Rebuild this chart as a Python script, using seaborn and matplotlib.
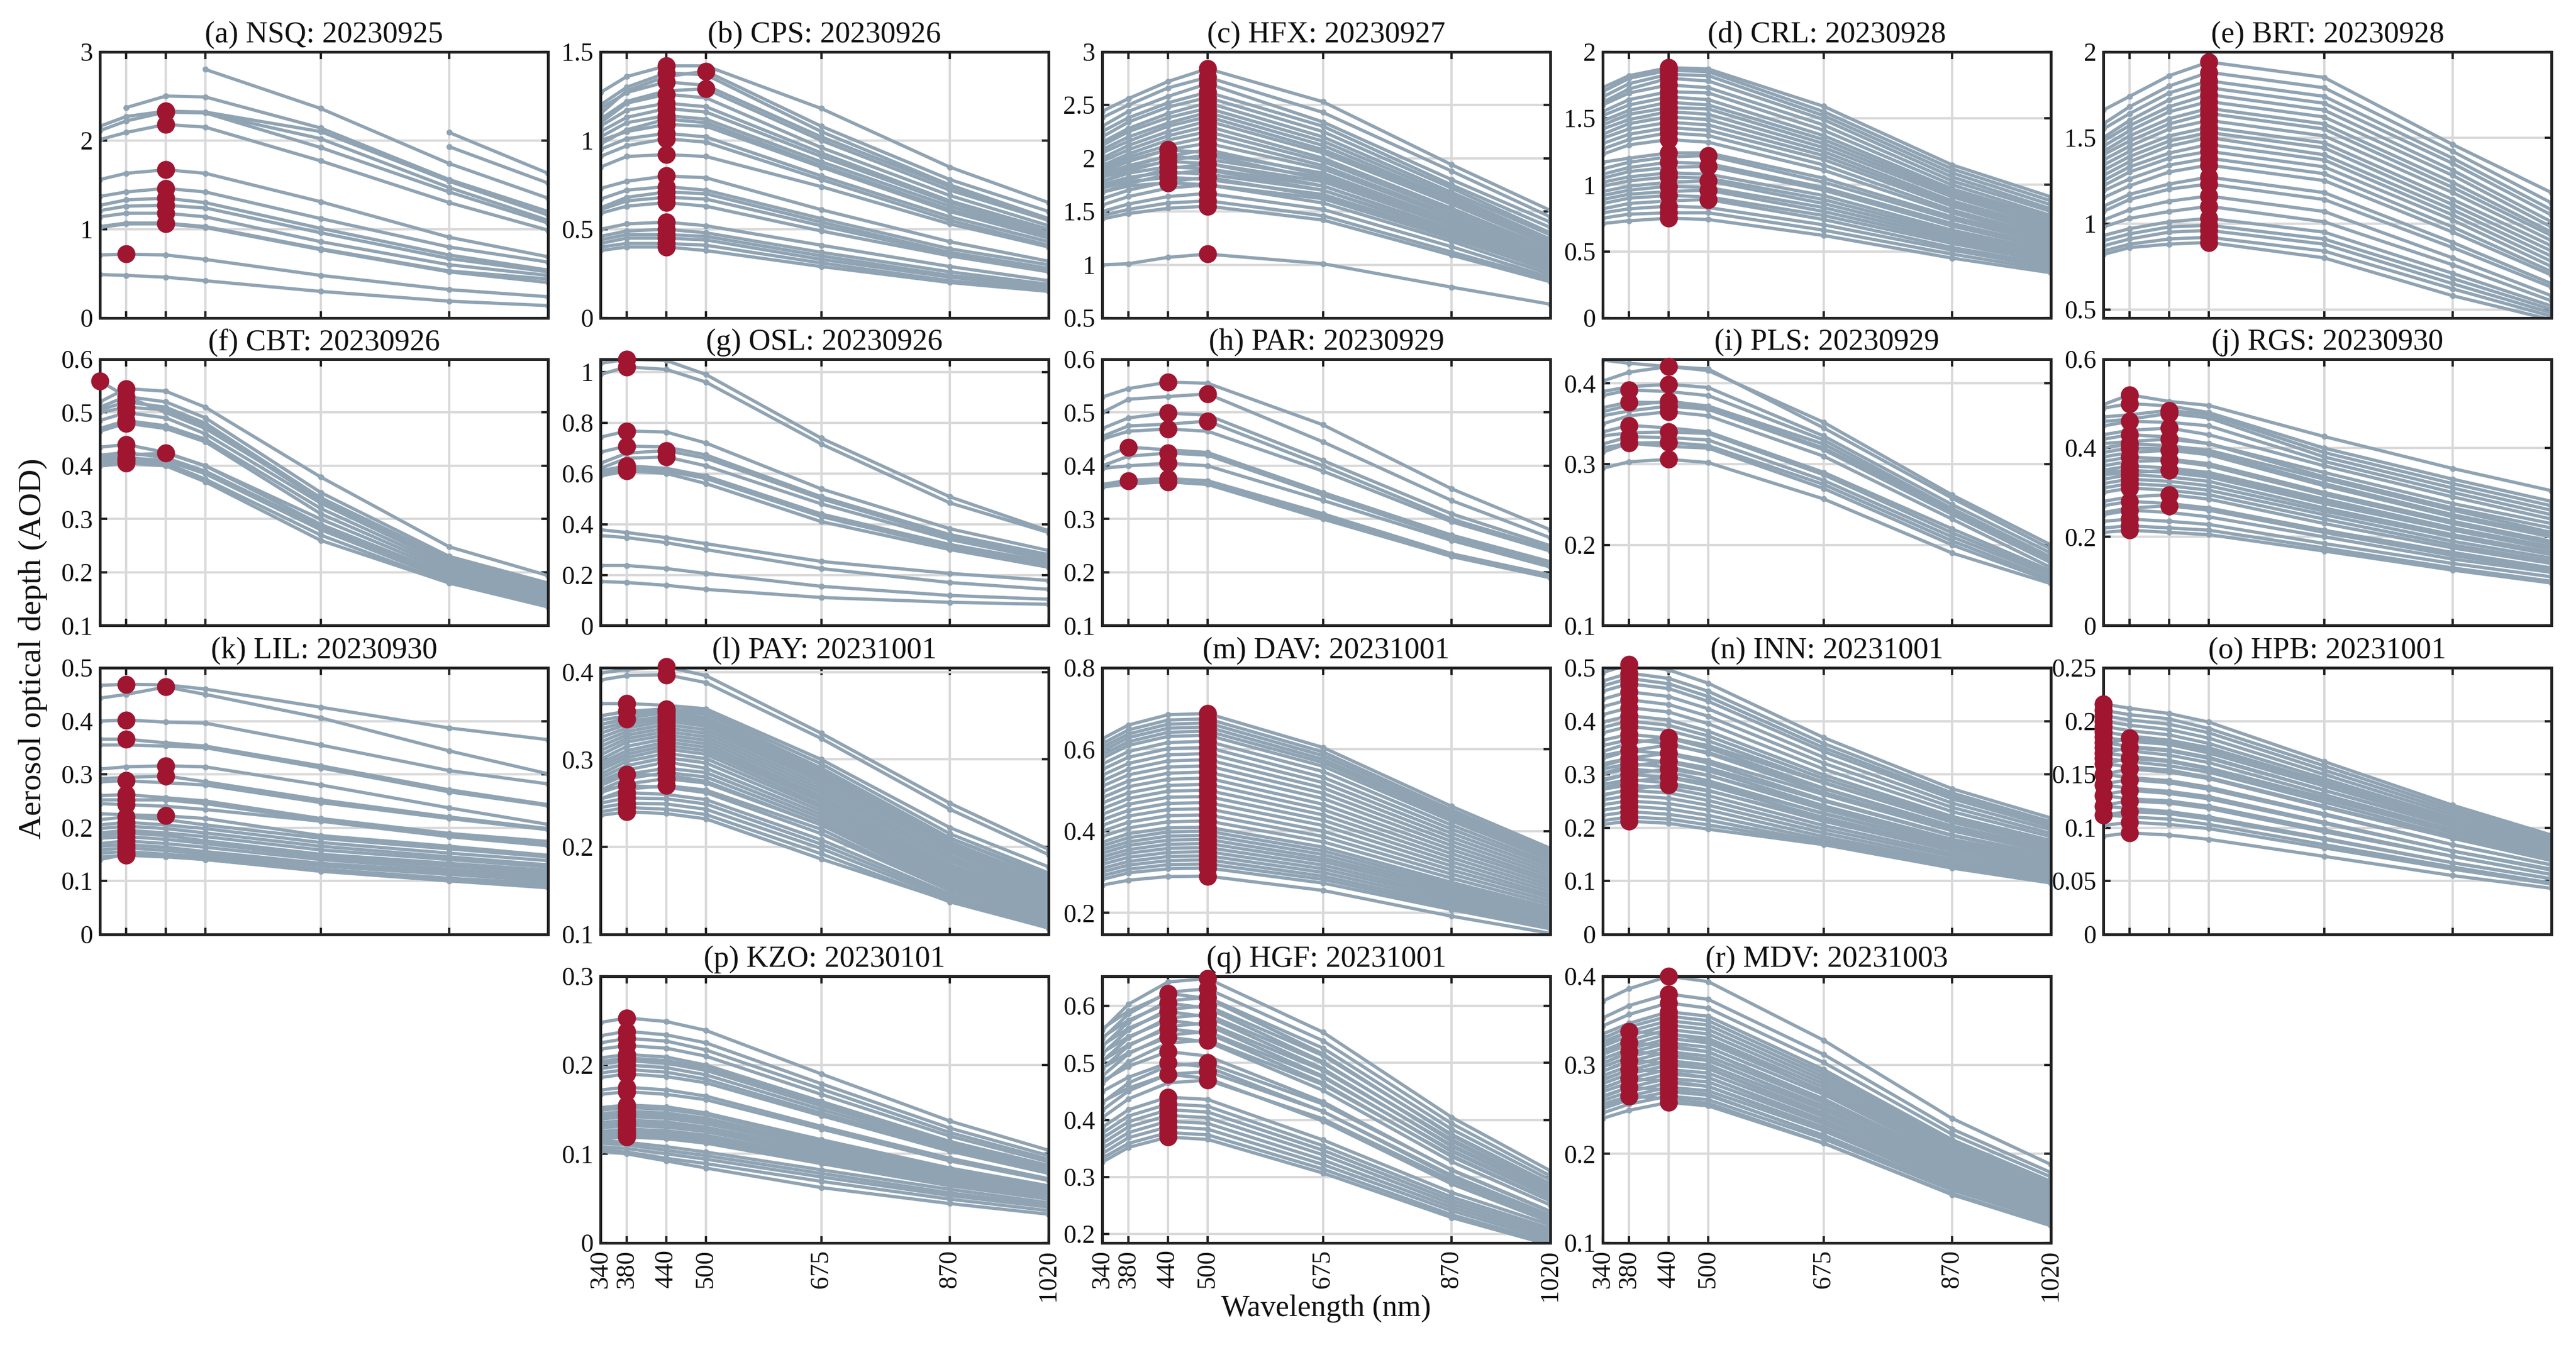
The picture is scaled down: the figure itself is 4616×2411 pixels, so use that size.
import numpy as np
import pandas as pd
import matplotlib
matplotlib.use("Agg")
import matplotlib.pyplot as plt
import seaborn as sns
from matplotlib.ticker import FuncFormatter

nan = np.nan
wavelengths = [340, 380, 440, 500, 675, 870, 1020]

titles = ["(a) NSQ: 20230925", "(b) CPS: 20230926", "(c) HFX: 20230927", "(d) CRL: 20230928",
          "(e) BRT: 20230928", "(f) CBT: 20230926", "(g) OSL: 20230926", "(h) PAR: 20230929",
          "(i) PLS: 20230929", "(j) RGS: 20230930", "(k) LIL: 20230930", "(l) PAY: 20231001",
          "(m) DAV: 20231001", "(n) INN: 20231001", "(o) HPB: 20231001", "(p) KZO: 20230101",
          "(q) HGF: 20231001", "(r) MDV: 20231003"]

ylims = [(0, 3), (0, 1.5), (0.5, 3), (0, 2), (0.45, 2), (0.1, 0.6), (0, 1.05), (0.1, 0.6),
         (0.1, 0.43), (0, 0.6), (0, 0.5), (0.1, 0.405), (0.148, 0.8), (0, 0.5), (0, 0.25),
         (0, 0.3), (0.185, 0.652), (0.1, 0.4)]

yticks = [[0, 1, 2, 3], [0, 0.5, 1, 1.5], [0.5, 1, 1.5, 2, 2.5, 3], [0, 0.5, 1, 1.5, 2],
          [0.5, 1, 1.5, 2], [0.1, 0.2, 0.3, 0.4, 0.5, 0.6], [0, 0.2, 0.4, 0.6, 0.8, 1],
          [0.1, 0.2, 0.3, 0.4, 0.5, 0.6], [0.1, 0.2, 0.3, 0.4], [0, 0.2, 0.4, 0.6],
          [0, 0.1, 0.2, 0.3, 0.4, 0.5], [0.1, 0.2, 0.3, 0.4], [0.2, 0.4, 0.6, 0.8],
          [0, 0.1, 0.2, 0.3, 0.4, 0.5], [0, 0.05, 0.1, 0.15, 0.2, 0.25], [0, 0.1, 0.2, 0.3],
          [0.2, 0.3, 0.4, 0.5, 0.6], [0.1, 0.2, 0.3, 0.4]]

# AOD spectra (340,380,440,500,675,870,1020 nm) and the wavelength of the marked peak (0 = none)
aod_a = [[nan, nan, nan, 2.80, 2.36, 1.74, 1.35], [nan, 2.37, 2.50, 2.49, 2.14, 1.56, 1.20],
         [2.16, 2.27, 2.33, 2.32, 2.10, 1.54, 1.16], [2.11, 2.22, 2.32, 2.31, 2.02, 1.47, 1.10],
         [nan, nan, nan, 2.31, 1.92, 1.42, 1.07], [2.01, 2.09, 2.18, 2.15, 1.77, 1.30, 0.99],
         [nan, nan, nan, nan, nan, 2.09, 1.63], [nan, nan, nan, nan, nan, 1.93, 1.52],
         [1.56, 1.63, 1.67, 1.63, 1.31, 0.91, 0.69], [1.37, 1.42, 1.46, 1.42, 1.12, 0.80, 0.63],
         [1.27, 1.33, 1.35, 1.30, 1.01, 0.71, 0.54], [1.21, 1.26, 1.27, 1.24, 0.96, 0.67, 0.52],
         [1.14, 1.18, 1.18, 1.14, 0.86, 0.60, 0.48], [1.03, 1.07, 1.07, 1.03, 0.78, 0.53, 0.44],
         [1.02, 1.06, 1.06, 1.02, 0.77, 0.52, 0.40], [0.71, 0.72, 0.71, 0.66, 0.48, 0.32, 0.24],
         [0.49, 0.48, 0.46, 0.42, 0.30, 0.19, 0.14]]
peak_a = [0, 0, 440, 440, 0, 440, 0, 0, 440, 440, 440, 440, 440, 440, 440, 380, 0]

aod_b = [[1.27, 1.36, 1.42, 1.42, 1.18, 0.85, 0.65], [1.15, 1.28, 1.36, 1.39, 1.08, 0.78, 0.60],
         [1.20, 1.30, 1.38, 1.37, 1.05, 0.75, 0.56], [1.12, 1.22, 1.28, 1.29, 1.00, 0.72, 0.55],
         [1.18, 1.27, 1.33, 1.31, 1.02, 0.74, 0.55], [1.10, 1.21, 1.26, 1.24, 0.96, 0.69, 0.52],
         [1.08, 1.17, 1.21, 1.19, 0.93, 0.66, 0.50], [1.05, 1.13, 1.18, 1.16, 0.91, 0.65, 0.48],
         [1.02, 1.10, 1.14, 1.12, 0.88, 0.63, 0.47], [0.98, 1.06, 1.12, 1.10, 0.86, 0.61, 0.46],
         [1.00, 1.05, 1.09, 1.08, 0.85, 0.60, 0.45], [0.95, 1.01, 1.04, 1.02, 0.80, 0.57, 0.43],
         [0.91, 0.97, 1.01, 0.99, 0.78, 0.55, 0.41], [0.85, 0.91, 0.92, 0.91, 0.74, 0.53, 0.40],
         [0.73, 0.77, 0.80, 0.79, 0.61, 0.43, 0.32], [0.67, 0.72, 0.74, 0.72, 0.56, 0.39, 0.30],
         [0.62, 0.68, 0.71, 0.70, 0.54, 0.37, 0.28], [0.61, 0.66, 0.68, 0.67, 0.52, 0.36, 0.27],
         [0.59, 0.63, 0.65, 0.63, 0.49, 0.35, 0.26], [0.50, 0.53, 0.54, 0.52, 0.41, 0.29, 0.21],
         [0.46, 0.49, 0.50, 0.48, 0.37, 0.26, 0.19], [0.44, 0.47, 0.47, 0.46, 0.35, 0.24, 0.18],
         [0.42, 0.45, 0.45, 0.44, 0.33, 0.23, 0.17], [0.40, 0.42, 0.42, 0.41, 0.31, 0.21, 0.16],
         [0.38, 0.40, 0.40, 0.38, 0.29, 0.20, 0.15]]
peak_b = [440, 500, 440, 500] + [440] * 21

aod_c = [[2.44, 2.56, 2.72, 2.84, 2.53, 1.94, 1.51], [2.38, 2.50, 2.66, 2.76, 2.43, 1.88, 1.45],
         [2.30, 2.44, 2.58, 2.70, 2.34, 1.80, 1.40], [2.25, 2.38, 2.52, 2.62, 2.30, 1.75, 1.35],
         [2.20, 2.34, 2.48, 2.57, 2.25, 1.72, 1.30], [2.15, 2.28, 2.42, 2.52, 2.20, 1.68, 1.28],
         [2.12, 2.25, 2.38, 2.47, 2.16, 1.65, 1.24], [2.08, 2.20, 2.33, 2.43, 2.12, 1.62, 1.22],
         [2.05, 2.16, 2.30, 2.39, 2.08, 1.60, 1.20], [2.00, 2.12, 2.25, 2.35, 2.05, 1.57, 1.18],
         [1.97, 2.08, 2.21, 2.30, 2.00, 1.53, 1.15], [1.93, 2.04, 2.17, 2.25, 1.97, 1.50, 1.13],
         [1.90, 2.01, 2.12, 2.20, 1.93, 1.47, 1.10], [1.87, 1.97, 2.08, 2.14, 1.90, 1.45, 1.08],
         [1.90, 1.98, 2.08, 2.05, 1.86, 1.42, 1.06], [1.85, 1.93, 2.02, 1.99, 1.82, 1.40, 1.04],
         [1.82, 1.90, 1.97, 1.95, 1.78, 1.37, 1.02], [1.78, 1.86, 1.92, 1.90, 1.74, 1.34, 1.00],
         [1.75, 1.82, 1.87, 1.85, 1.70, 1.31, 0.98], [1.72, 1.78, 1.82, 1.80, 1.66, 1.28, 0.96],
         [1.68, 1.74, 1.77, 1.75, 1.62, 1.25, 0.95], [1.82, 1.92, 2.02, 2.08, 1.84, 1.42, 1.07],
         [1.78, 1.88, 1.98, 2.03, 1.80, 1.38, 1.04], [1.72, 1.80, 1.90, 1.95, 1.74, 1.33, 1.00],
         [1.68, 1.76, 1.85, 1.89, 1.70, 1.30, 0.97], [1.62, 1.70, 1.78, 1.82, 1.64, 1.26, 0.94],
         [1.56, 1.64, 1.72, 1.75, 1.58, 1.22, 0.91], [1.50, 1.57, 1.64, 1.67, 1.52, 1.17, 0.88],
         [1.46, 1.52, 1.58, 1.60, 1.46, 1.12, 0.86], [1.43, 1.48, 1.53, 1.55, 1.42, 1.09, 0.84],
         [1.00, 1.01, 1.07, 1.10, 1.01, 0.79, 0.63]]
peak_c = [500] * 14 + [440] * 7 + [500] * 10

aod_d = [[1.73, 1.82, 1.88, 1.87, 1.59, 1.15, 0.91], [1.70, 1.80, 1.86, 1.85, 1.55, 1.12, 0.88],
         [1.66, 1.76, 1.83, 1.82, 1.52, 1.09, 0.85], [1.62, 1.72, 1.80, 1.78, 1.49, 1.06, 0.82],
         [1.60, 1.69, 1.75, 1.73, 1.45, 1.03, 0.80], [1.55, 1.64, 1.70, 1.69, 1.41, 1.00, 0.77],
         [1.52, 1.60, 1.66, 1.64, 1.37, 0.97, 0.75], [1.48, 1.56, 1.62, 1.60, 1.34, 0.95, 0.73],
         [1.45, 1.53, 1.58, 1.57, 1.31, 0.93, 0.71], [1.42, 1.49, 1.55, 1.53, 1.28, 0.91, 0.69],
         [1.38, 1.46, 1.51, 1.49, 1.25, 0.88, 0.67], [1.35, 1.42, 1.47, 1.45, 1.22, 0.86, 0.65],
         [1.31, 1.38, 1.43, 1.41, 1.19, 0.84, 0.63], [1.27, 1.34, 1.39, 1.37, 1.15, 0.81, 0.61],
         [1.23, 1.30, 1.34, 1.32, 1.11, 0.79, 0.59], [1.17, 1.20, 1.24, 1.24, 1.05, 0.76, 0.58],
         [1.12, 1.17, 1.21, 1.22, 1.02, 0.74, 0.56], [1.08, 1.13, 1.17, 1.16, 0.98, 0.71, 0.54],
         [1.05, 1.10, 1.13, 1.14, 0.96, 0.69, 0.52], [1.02, 1.06, 1.09, 1.08, 0.92, 0.66, 0.50],
         [0.99, 1.03, 1.06, 1.05, 0.89, 0.64, 0.48], [0.95, 0.99, 1.02, 1.03, 0.86, 0.62, 0.47],
         [0.92, 0.96, 0.99, 0.98, 0.83, 0.60, 0.45], [0.89, 0.93, 0.95, 0.96, 0.80, 0.58, 0.44],
         [0.86, 0.90, 0.92, 0.91, 0.77, 0.56, 0.42], [0.82, 0.86, 0.88, 0.89, 0.74, 0.53, 0.40],
         [0.79, 0.82, 0.84, 0.83, 0.70, 0.51, 0.38], [0.75, 0.78, 0.79, 0.79, 0.66, 0.48, 0.36],
         [0.71, 0.73, 0.75, 0.74, 0.62, 0.45, 0.34]]
peak_d = [440] * 16 + [500, 440, 500, 440, 440, 500, 440, 500, 440, 500, 440, 440, 440]

aod_e = [[1.66, 1.74, 1.86, 1.94, 1.85, 1.46, 1.18], [1.58, 1.68, 1.80, 1.88, 1.79, 1.42, 1.12],
         [1.55, 1.64, 1.76, 1.83, 1.74, 1.38, 1.08], [1.50, 1.60, 1.72, 1.79, 1.70, 1.35, 1.05],
         [1.48, 1.57, 1.68, 1.75, 1.66, 1.31, 1.01], [1.45, 1.54, 1.65, 1.71, 1.62, 1.28, 0.98],
         [1.42, 1.51, 1.61, 1.67, 1.58, 1.24, 0.95], [1.40, 1.48, 1.58, 1.64, 1.55, 1.21, 0.93],
         [1.37, 1.45, 1.55, 1.60, 1.51, 1.18, 0.90], [1.34, 1.42, 1.51, 1.56, 1.47, 1.14, 0.87],
         [1.31, 1.39, 1.48, 1.53, 1.44, 1.11, 0.84], [1.28, 1.36, 1.45, 1.50, 1.40, 1.08, 0.81],
         [1.25, 1.33, 1.41, 1.46, 1.37, 1.05, 0.78], [1.22, 1.30, 1.38, 1.42, 1.33, 1.02, 0.75],
         [1.19, 1.26, 1.34, 1.38, 1.29, 0.98, 0.72], [1.15, 1.22, 1.30, 1.34, 1.25, 0.95, 0.70],
         [1.10, 1.17, 1.23, 1.27, 1.18, 0.89, 0.65], [1.07, 1.14, 1.20, 1.23, 1.14, 0.86, 0.63],
         [1.02, 1.08, 1.13, 1.16, 1.07, 0.80, 0.58], [0.98, 1.03, 1.07, 1.10, 1.01, 0.76, 0.55],
         [0.93, 0.97, 1.01, 1.03, 0.95, 0.71, 0.52], [0.90, 0.94, 0.98, 0.99, 0.91, 0.68, 0.50],
         [0.87, 0.91, 0.95, 0.96, 0.88, 0.65, 0.48], [0.84, 0.88, 0.91, 0.92, 0.84, 0.62, 0.46],
         [0.82, 0.86, 0.88, 0.89, 0.80, 0.58, 0.44]]
peak_e = [500] * 25

aod_f = [[0.559, 0.53, 0.50, 0.47, 0.34, 0.22, 0.17], [0.52, 0.545, 0.54, 0.51, 0.379, 0.248, 0.194],
         [0.51, 0.53, 0.52, 0.49, 0.35, 0.23, 0.18], [0.505, 0.52, 0.51, 0.48, 0.34, 0.225, 0.175],
         [0.50, 0.51, 0.505, 0.475, 0.335, 0.22, 0.17], [0.485, 0.50, 0.49, 0.46, 0.33, 0.215, 0.165],
         [0.47, 0.485, 0.475, 0.45, 0.32, 0.21, 0.16], [0.465, 0.48, 0.47, 0.445, 0.31, 0.205, 0.155],
         [0.435, 0.44, 0.425, 0.40, 0.30, 0.20, 0.15], [0.415, 0.42, 0.424, 0.40, 0.29, 0.195, 0.15],
         [0.42, 0.425, 0.415, 0.39, 0.285, 0.19, 0.145], [0.41, 0.415, 0.41, 0.385, 0.28, 0.185, 0.14],
         [0.405, 0.41, 0.405, 0.375, 0.27, 0.18, 0.14], [0.40, 0.405, 0.40, 0.37, 0.26, 0.18, 0.135]]
peak_f = [340, 380, 380, 380, 380, 380, 380, 380, 380, 440, 380, 380, 380, 380]

aod_g = [[1.034, 1.05, 1.045, 0.99, 0.739, 0.508, 0.374], [0.99, 1.02, 1.01, 0.96, 0.716, 0.484, 0.367],
         [0.743, 0.767, 0.763, 0.72, 0.539, 0.382, 0.296], [0.684, 0.708, 0.704, 0.673, 0.508, 0.359, 0.28],
         [0.64, 0.68, 0.69, 0.66, 0.50, 0.35, 0.27], [0.62, 0.66, 0.665, 0.63, 0.48, 0.34, 0.26],
         [0.61, 0.63, 0.62, 0.59, 0.44, 0.32, 0.25], [0.60, 0.62, 0.61, 0.58, 0.43, 0.31, 0.24],
         [0.59, 0.61, 0.60, 0.56, 0.41, 0.30, 0.23], [0.378, 0.367, 0.347, 0.323, 0.253, 0.206, 0.178],
         [0.355, 0.347, 0.327, 0.30, 0.225, 0.170, 0.143], [0.237, 0.237, 0.225, 0.206, 0.155, 0.119, 0.104],
         [0.174, 0.170, 0.159, 0.143, 0.111, 0.092, 0.084]]
peak_g = [380, 380, 380, 380, 440, 440, 380, 380, 380, 0, 0, 0, 0]

aod_h = [[0.529, 0.545, 0.557, 0.555, 0.477, 0.357, 0.28], [0.50, 0.525, 0.53, 0.535, 0.445, 0.335, 0.265],
         [0.47, 0.49, 0.499, 0.495, 0.41, 0.31, 0.25], [0.455, 0.475, 0.478, 0.484, 0.40, 0.30, 0.245],
         [0.45, 0.465, 0.469, 0.465, 0.39, 0.295, 0.24], [0.415, 0.435, 0.43, 0.425, 0.35, 0.27, 0.22],
         [0.40, 0.418, 0.424, 0.42, 0.345, 0.265, 0.215], [0.395, 0.40, 0.405, 0.40, 0.335, 0.26, 0.21],
         [0.36, 0.372, 0.37, 0.365, 0.30, 0.23, 0.19], [0.365, 0.373, 0.376, 0.372, 0.31, 0.235, 0.195],
         [0.36, 0.366, 0.37, 0.366, 0.305, 0.23, 0.19]]
peak_h = [440, 500, 440, 500, 440, 380, 440, 440, 380, 440, 440]

aod_i = [[0.429, 0.425, 0.421, 0.416, 0.352, 0.262, 0.20], [0.403, 0.414, 0.421, 0.418, 0.345, 0.258, 0.195],
         [0.385, 0.392, 0.39, 0.385, 0.33, 0.245, 0.185], [0.39, 0.396, 0.399, 0.395, 0.335, 0.25, 0.19],
         [0.37, 0.377, 0.376, 0.37, 0.32, 0.24, 0.18], [0.365, 0.373, 0.378, 0.372, 0.325, 0.242, 0.182],
         [0.36, 0.366, 0.372, 0.368, 0.318, 0.238, 0.178], [0.35, 0.36, 0.365, 0.36, 0.31, 0.232, 0.172],
         [0.34, 0.348, 0.345, 0.34, 0.29, 0.22, 0.168], [0.335, 0.339, 0.34, 0.338, 0.287, 0.215, 0.165],
         [0.325, 0.334, 0.333, 0.33, 0.28, 0.21, 0.162], [0.32, 0.326, 0.327, 0.323, 0.275, 0.205, 0.158],
         [0.315, 0.326, 0.322, 0.32, 0.27, 0.20, 0.155], [0.295, 0.303, 0.306, 0.302, 0.257, 0.19, 0.152]]
peak_i = [0, 440, 380, 440, 380, 440, 440, 440, 380, 440, 380, 440, 380, 440]

aod_j = [[0.498, 0.52, 0.505, 0.496, 0.426, 0.354, 0.304], [0.49, 0.50, 0.495, 0.48, 0.40, 0.33, 0.28],
         [0.47, 0.475, 0.485, 0.475, 0.39, 0.32, 0.27], [0.46, 0.465, 0.478, 0.468, 0.38, 0.31, 0.26],
         [0.45, 0.46, 0.458, 0.45, 0.37, 0.30, 0.25], [0.43, 0.44, 0.445, 0.43, 0.36, 0.29, 0.24],
         [0.42, 0.43, 0.425, 0.41, 0.345, 0.275, 0.23], [0.41, 0.415, 0.42, 0.41, 0.335, 0.265, 0.22],
         [0.40, 0.41, 0.405, 0.395, 0.33, 0.26, 0.21], [0.39, 0.40, 0.398, 0.39, 0.32, 0.25, 0.205],
         [0.38, 0.39, 0.395, 0.385, 0.315, 0.245, 0.20], [0.37, 0.38, 0.375, 0.365, 0.30, 0.235, 0.19],
         [0.36, 0.37, 0.372, 0.36, 0.295, 0.23, 0.185], [0.35, 0.36, 0.355, 0.345, 0.285, 0.22, 0.178],
         [0.345, 0.35, 0.345, 0.335, 0.275, 0.215, 0.172], [0.34, 0.345, 0.35, 0.34, 0.28, 0.218, 0.175],
         [0.33, 0.34, 0.335, 0.325, 0.265, 0.205, 0.165], [0.32, 0.33, 0.325, 0.315, 0.258, 0.20, 0.16],
         [0.31, 0.32, 0.315, 0.305, 0.25, 0.19, 0.152], [0.30, 0.31, 0.305, 0.295, 0.24, 0.182, 0.145],
         [0.28, 0.29, 0.295, 0.285, 0.23, 0.175, 0.14], [0.27, 0.28, 0.275, 0.265, 0.215, 0.165, 0.13],
         [0.255, 0.265, 0.27, 0.26, 0.21, 0.158, 0.125], [0.25, 0.26, 0.255, 0.245, 0.20, 0.15, 0.12],
         [0.235, 0.24, 0.235, 0.228, 0.185, 0.14, 0.11], [0.22, 0.225, 0.22, 0.215, 0.175, 0.13, 0.10],
         [0.21, 0.215, 0.21, 0.205, 0.168, 0.125, 0.096]]
peak_j = [380, 380, 440, 440, 380, 440, 380, 440, 380, 380, 440, 380, 440, 380, 380, 440,
          380, 380, 380, 380, 440, 380, 440, 380, 380, 380, 380]

aod_k = [[0.467, 0.469, 0.468, 0.46, 0.426, 0.387, 0.365], [0.443, 0.45, 0.464, 0.45, 0.406, 0.344, 0.301],
         [0.40, 0.402, 0.398, 0.396, 0.355, 0.307, 0.282], [0.366, 0.366, 0.359, 0.353, 0.316, 0.271, 0.243],
         [0.355, 0.355, 0.353, 0.35, 0.312, 0.267, 0.241], [0.31, 0.314, 0.316, 0.314, 0.28, 0.237, 0.206],
         [0.292, 0.294, 0.297, 0.286, 0.252, 0.22, 0.198], [0.286, 0.288, 0.284, 0.28, 0.247, 0.217, 0.196],
         [0.26, 0.262, 0.256, 0.25, 0.217, 0.189, 0.174], [0.252, 0.252, 0.252, 0.245, 0.214, 0.185, 0.168],
         [0.245, 0.243, 0.24, 0.234, 0.212, 0.183, 0.166], [0.226, 0.224, 0.222, 0.217, 0.185, 0.165, 0.148],
         [0.215, 0.22, 0.215, 0.205, 0.18, 0.16, 0.145], [0.205, 0.21, 0.205, 0.198, 0.172, 0.152, 0.138],
         [0.198, 0.203, 0.198, 0.19, 0.165, 0.145, 0.13], [0.19, 0.195, 0.19, 0.183, 0.158, 0.14, 0.126],
         [0.185, 0.19, 0.185, 0.175, 0.15, 0.133, 0.12], [0.18, 0.183, 0.178, 0.17, 0.145, 0.128, 0.115],
         [0.17, 0.175, 0.17, 0.163, 0.14, 0.122, 0.11], [0.165, 0.168, 0.163, 0.155, 0.133, 0.117, 0.105],
         [0.158, 0.162, 0.157, 0.15, 0.128, 0.112, 0.10], [0.152, 0.155, 0.15, 0.145, 0.122, 0.105, 0.095],
         [0.145, 0.148, 0.145, 0.14, 0.118, 0.10, 0.09], [0.14, 0.15, 0.147, 0.14, 0.12, 0.10, 0.087]]
peak_k = [380, 440, 380, 380, 0, 440, 440, 380, 380, 380, 380, 440] + [380] * 12

aod_l = [[0.399, 0.403, 0.406, 0.396, 0.33, 0.25, 0.197], [0.391, 0.396, 0.397, 0.388, 0.324, 0.243, 0.191],
         [0.364, 0.364, 0.362, 0.358, 0.30, 0.222, 0.177], [0.35, 0.355, 0.358, 0.355, 0.295, 0.215, 0.17],
         [0.345, 0.35, 0.356, 0.352, 0.29, 0.21, 0.165], [0.34, 0.347, 0.354, 0.348, 0.286, 0.206, 0.16],
         [0.335, 0.343, 0.35, 0.345, 0.283, 0.203, 0.157], [0.33, 0.34, 0.347, 0.342, 0.28, 0.20, 0.154],
         [0.325, 0.336, 0.344, 0.338, 0.277, 0.197, 0.151], [0.32, 0.332, 0.34, 0.334, 0.274, 0.194, 0.148],
         [0.315, 0.328, 0.336, 0.33, 0.27, 0.19, 0.145], [0.31, 0.324, 0.332, 0.326, 0.266, 0.187, 0.142],
         [0.305, 0.32, 0.328, 0.322, 0.262, 0.184, 0.139], [0.30, 0.315, 0.324, 0.318, 0.258, 0.18, 0.136],
         [0.296, 0.31, 0.32, 0.314, 0.255, 0.177, 0.133], [0.292, 0.306, 0.316, 0.31, 0.252, 0.174, 0.13],
         [0.288, 0.302, 0.312, 0.306, 0.248, 0.171, 0.128], [0.283, 0.298, 0.307, 0.301, 0.245, 0.168, 0.126],
         [0.279, 0.293, 0.302, 0.296, 0.241, 0.165, 0.124], [0.275, 0.288, 0.297, 0.29, 0.237, 0.162, 0.122],
         [0.27, 0.283, 0.29, 0.285, 0.233, 0.159, 0.12], [0.265, 0.278, 0.285, 0.28, 0.229, 0.156, 0.118],
         [0.262, 0.272, 0.278, 0.273, 0.225, 0.153, 0.116], [0.255, 0.266, 0.27, 0.265, 0.22, 0.15, 0.114],
         [0.274, 0.283, 0.282, 0.275, 0.225, 0.155, 0.118], [0.265, 0.27, 0.268, 0.262, 0.215, 0.15, 0.114],
         [0.255, 0.262, 0.26, 0.254, 0.208, 0.146, 0.111], [0.25, 0.256, 0.255, 0.249, 0.203, 0.143, 0.11],
         [0.245, 0.25, 0.249, 0.243, 0.198, 0.14, 0.108], [0.24, 0.245, 0.243, 0.237, 0.192, 0.137, 0.107],
         [0.236, 0.24, 0.238, 0.232, 0.186, 0.138, 0.107], [0.35, 0.355, 0.352, 0.347, 0.29, 0.21, 0.167],
         [0.34, 0.346, 0.344, 0.34, 0.283, 0.205, 0.162]]
peak_l = [440, 440, 380] + [440] * 21 + [380] * 9

aod_m = [[0.626, 0.660, 0.685, 0.688, 0.605, 0.461, 0.358], [0.614, 0.648, 0.672, 0.675, 0.594, 0.452, 0.351],
         [0.605, 0.638, 0.662, 0.665, 0.585, 0.446, 0.346], [0.596, 0.629, 0.652, 0.655, 0.576, 0.439, 0.341],
         [0.587, 0.619, 0.642, 0.645, 0.568, 0.432, 0.335], [0.578, 0.610, 0.632, 0.635, 0.559, 0.425, 0.330],
         [0.564, 0.595, 0.617, 0.620, 0.546, 0.415, 0.322], [0.551, 0.581, 0.602, 0.605, 0.532, 0.405, 0.315],
         [0.537, 0.566, 0.587, 0.590, 0.519, 0.395, 0.307], [0.523, 0.552, 0.572, 0.575, 0.506, 0.385, 0.299],
         [0.510, 0.538, 0.557, 0.560, 0.493, 0.375, 0.291], [0.496, 0.523, 0.542, 0.545, 0.480, 0.365, 0.283],
         [0.482, 0.509, 0.527, 0.530, 0.466, 0.355, 0.276], [0.469, 0.494, 0.512, 0.515, 0.453, 0.345, 0.268],
         [0.455, 0.480, 0.498, 0.500, 0.440, 0.335, 0.260], [0.441, 0.466, 0.483, 0.485, 0.427, 0.325, 0.252],
         [0.428, 0.451, 0.468, 0.470, 0.414, 0.315, 0.244], [0.414, 0.437, 0.453, 0.455, 0.400, 0.305, 0.237],
         [0.400, 0.422, 0.438, 0.440, 0.387, 0.295, 0.229], [0.387, 0.408, 0.423, 0.425, 0.374, 0.285, 0.221],
         [0.373, 0.394, 0.408, 0.410, 0.361, 0.275, 0.213], [0.364, 0.384, 0.398, 0.400, 0.352, 0.268, 0.208],
         [0.355, 0.374, 0.388, 0.390, 0.343, 0.261, 0.203], [0.346, 0.365, 0.378, 0.380, 0.334, 0.255, 0.198],
         [0.337, 0.355, 0.368, 0.370, 0.326, 0.248, 0.192], [0.328, 0.346, 0.358, 0.360, 0.317, 0.241, 0.187],
         [0.319, 0.336, 0.348, 0.350, 0.308, 0.235, 0.182], [0.309, 0.326, 0.338, 0.340, 0.299, 0.228, 0.177],
         [0.300, 0.317, 0.328, 0.330, 0.290, 0.221, 0.172], [0.291, 0.307, 0.318, 0.320, 0.282, 0.214, 0.166],
         [0.282, 0.298, 0.308, 0.310, 0.273, 0.208, 0.161], [0.268, 0.280, 0.289, 0.290, 0.255, 0.192, 0.150]]
peak_m = [500] * 32

aod_n = [[0.491, 0.506, 0.496, 0.471, 0.369, 0.273, 0.218], [0.475, 0.490, 0.480, 0.456, 0.358, 0.265, 0.211],
         [0.466, 0.480, 0.470, 0.446, 0.350, 0.259, 0.206], [0.456, 0.470, 0.461, 0.437, 0.343, 0.254, 0.202],
         [0.441, 0.455, 0.446, 0.423, 0.332, 0.246, 0.196], [0.427, 0.440, 0.431, 0.409, 0.321, 0.238, 0.189],
         [0.412, 0.425, 0.417, 0.395, 0.310, 0.230, 0.183], [0.398, 0.410, 0.402, 0.381, 0.299, 0.221, 0.176],
         [0.388, 0.400, 0.392, 0.372, 0.292, 0.216, 0.172], [0.378, 0.390, 0.382, 0.363, 0.285, 0.211, 0.168],
         [0.364, 0.375, 0.368, 0.349, 0.274, 0.203, 0.161], [0.354, 0.365, 0.358, 0.339, 0.266, 0.197, 0.157],
         [0.335, 0.345, 0.338, 0.321, 0.252, 0.186, 0.148], [0.320, 0.330, 0.323, 0.307, 0.241, 0.178, 0.142],
         [0.310, 0.320, 0.314, 0.298, 0.234, 0.173, 0.138], [0.301, 0.310, 0.304, 0.288, 0.226, 0.167, 0.133],
         [0.291, 0.300, 0.294, 0.279, 0.219, 0.162, 0.129], [0.281, 0.290, 0.284, 0.270, 0.212, 0.157, 0.125],
         [0.272, 0.280, 0.274, 0.260, 0.204, 0.151, 0.120], [0.262, 0.270, 0.265, 0.251, 0.197, 0.146, 0.116],
         [0.252, 0.260, 0.255, 0.242, 0.190, 0.140, 0.112], [0.243, 0.250, 0.245, 0.233, 0.183, 0.135, 0.108],
         [0.233, 0.240, 0.235, 0.223, 0.177, 0.132, 0.104], [0.223, 0.230, 0.225, 0.214, 0.172, 0.129, 0.101],
         [0.213, 0.220, 0.216, 0.205, 0.170, 0.128, 0.100], [0.206, 0.212, 0.208, 0.197, 0.168, 0.124, 0.096],
         [0.343, 0.358, 0.369, 0.354, 0.284, 0.210, 0.166], [0.330, 0.344, 0.355, 0.341, 0.273, 0.202, 0.160],
         [0.316, 0.330, 0.340, 0.326, 0.262, 0.194, 0.153], [0.302, 0.315, 0.325, 0.312, 0.250, 0.185, 0.146],
         [0.288, 0.301, 0.310, 0.298, 0.239, 0.177, 0.140], [0.274, 0.286, 0.295, 0.283, 0.227, 0.168, 0.133],
         [0.260, 0.272, 0.280, 0.269, 0.216, 0.160, 0.126]]
peak_n = [380] * 26 + [440] * 7

aod_o = [[0.216, 0.212, 0.207, 0.199, 0.162, 0.121, 0.093], [0.210, 0.206, 0.202, 0.193, 0.158, 0.118, 0.090],
         [0.205, 0.201, 0.197, 0.189, 0.154, 0.115, 0.088], [0.200, 0.196, 0.192, 0.184, 0.150, 0.112, 0.086],
         [0.195, 0.191, 0.187, 0.179, 0.146, 0.109, 0.084], [0.190, 0.186, 0.182, 0.175, 0.143, 0.106, 0.082],
         [0.185, 0.181, 0.178, 0.170, 0.139, 0.104, 0.080], [0.180, 0.176, 0.173, 0.166, 0.135, 0.101, 0.077],
         [0.175, 0.172, 0.168, 0.161, 0.131, 0.098, 0.075], [0.170, 0.167, 0.163, 0.156, 0.128, 0.095, 0.073],
         [0.165, 0.162, 0.158, 0.152, 0.124, 0.092, 0.071], [0.160, 0.157, 0.154, 0.147, 0.120, 0.090, 0.069],
         [0.150, 0.147, 0.144, 0.138, 0.113, 0.084, 0.065], [0.140, 0.137, 0.134, 0.129, 0.105, 0.078, 0.060],
         [0.130, 0.127, 0.125, 0.120, 0.098, 0.073, 0.056], [0.120, 0.118, 0.115, 0.110, 0.090, 0.067, 0.052],
         [0.112, 0.110, 0.108, 0.103, 0.084, 0.063, 0.048],
         [0.178, 0.184, 0.180, 0.173, 0.142, 0.107, 0.083], [0.170, 0.175, 0.172, 0.165, 0.135, 0.102, 0.079],
         [0.160, 0.165, 0.162, 0.155, 0.127, 0.096, 0.074], [0.150, 0.155, 0.152, 0.146, 0.119, 0.090, 0.070],
         [0.141, 0.145, 0.142, 0.136, 0.112, 0.084, 0.065], [0.131, 0.135, 0.132, 0.127, 0.104, 0.078, 0.061],
         [0.121, 0.125, 0.123, 0.118, 0.096, 0.073, 0.056], [0.112, 0.115, 0.113, 0.108, 0.089, 0.067, 0.052],
         [0.102, 0.105, 0.103, 0.099, 0.081, 0.061, 0.047], [0.092, 0.095, 0.093, 0.089, 0.073, 0.055, 0.043]]
peak_o = [340] * 17 + [380] * 10

aod_p = [[0.248, 0.253, 0.249, 0.239, 0.190, 0.137, 0.104], [0.233, 0.238, 0.234, 0.225, 0.179, 0.129, 0.098],
         [0.225, 0.230, 0.227, 0.217, 0.173, 0.124, 0.094], [0.218, 0.222, 0.219, 0.210, 0.167, 0.120, 0.091],
         [0.208, 0.212, 0.209, 0.200, 0.159, 0.114, 0.087], [0.204, 0.208, 0.205, 0.197, 0.156, 0.112, 0.085],
         [0.201, 0.205, 0.202, 0.194, 0.154, 0.111, 0.084], [0.196, 0.200, 0.197, 0.189, 0.150, 0.108, 0.082],
         [0.191, 0.195, 0.192, 0.184, 0.146, 0.105, 0.080], [0.186, 0.190, 0.187, 0.180, 0.143, 0.103, 0.078],
         [0.172, 0.175, 0.172, 0.165, 0.131, 0.095, 0.072], [0.167, 0.170, 0.167, 0.161, 0.128, 0.092, 0.070],
         [0.152, 0.155, 0.153, 0.146, 0.116, 0.084, 0.064], [0.149, 0.152, 0.150, 0.144, 0.114, 0.082, 0.062],
         [0.145, 0.148, 0.146, 0.140, 0.111, 0.080, 0.061], [0.142, 0.145, 0.143, 0.137, 0.109, 0.078, 0.059],
         [0.139, 0.142, 0.140, 0.134, 0.107, 0.077, 0.058], [0.135, 0.138, 0.136, 0.130, 0.104, 0.075, 0.057],
         [0.132, 0.135, 0.133, 0.128, 0.101, 0.073, 0.055], [0.129, 0.132, 0.130, 0.125, 0.099, 0.071, 0.054],
         [0.125, 0.128, 0.126, 0.121, 0.096, 0.069, 0.052], [0.122, 0.125, 0.123, 0.118, 0.094, 0.068, 0.051],
         [0.120, 0.122, 0.120, 0.115, 0.092, 0.066, 0.050], [0.117, 0.119, 0.117, 0.112, 0.089, 0.064, 0.049],
         [0.115, 0.113, 0.108, 0.102, 0.082, 0.060, 0.045], [0.112, 0.110, 0.104, 0.098, 0.078, 0.056, 0.042],
         [0.108, 0.106, 0.100, 0.094, 0.074, 0.053, 0.040], [0.105, 0.102, 0.095, 0.089, 0.069, 0.049, 0.036],
         [0.103, 0.100, 0.092, 0.084, 0.062, 0.044, 0.032]]
peak_p = [380] * 24 + [0] * 5

aod_q = [[0.557, 0.603, 0.642, 0.648, 0.554, 0.405, 0.311], [0.542, 0.586, 0.624, 0.630, 0.539, 0.394, 0.302],
         [0.529, 0.572, 0.609, 0.615, 0.526, 0.384, 0.295], [0.516, 0.558, 0.594, 0.600, 0.513, 0.375, 0.288],
         [0.503, 0.544, 0.579, 0.585, 0.500, 0.366, 0.281], [0.490, 0.530, 0.564, 0.570, 0.487, 0.356, 0.274],
         [0.477, 0.516, 0.549, 0.555, 0.475, 0.347, 0.266], [0.464, 0.502, 0.535, 0.540, 0.462, 0.338, 0.259],
         [0.430, 0.465, 0.495, 0.500, 0.428, 0.313, 0.240], [0.417, 0.451, 0.480, 0.485, 0.415, 0.303, 0.233],
         [0.404, 0.437, 0.465, 0.470, 0.402, 0.294, 0.226],
         [0.560, 0.591, 0.622, 0.613, 0.516, 0.373, 0.286], [0.545, 0.575, 0.605, 0.596, 0.502, 0.363, 0.278],
         [0.531, 0.561, 0.590, 0.581, 0.490, 0.354, 0.271], [0.518, 0.546, 0.575, 0.566, 0.477, 0.345, 0.265],
         [0.504, 0.532, 0.560, 0.552, 0.465, 0.336, 0.258], [0.491, 0.518, 0.545, 0.537, 0.452, 0.327, 0.251],
         [0.468, 0.494, 0.520, 0.512, 0.432, 0.312, 0.239], [0.450, 0.475, 0.500, 0.493, 0.415, 0.300, 0.230],
         [0.432, 0.456, 0.480, 0.473, 0.398, 0.288, 0.221],
         [0.387, 0.418, 0.440, 0.436, 0.365, 0.273, 0.216], [0.377, 0.407, 0.428, 0.424, 0.355, 0.265, 0.210],
         [0.368, 0.397, 0.418, 0.414, 0.347, 0.259, 0.205], [0.359, 0.388, 0.408, 0.404, 0.339, 0.253, 0.200],
         [0.350, 0.378, 0.398, 0.394, 0.330, 0.247, 0.195], [0.341, 0.369, 0.388, 0.384, 0.322, 0.241, 0.190],
         [0.333, 0.359, 0.378, 0.374, 0.314, 0.234, 0.185], [0.326, 0.352, 0.370, 0.366, 0.307, 0.229, 0.181]]
peak_q = [500] * 11 + [440] * 17

aod_r = [[0.372, 0.386, 0.400, 0.394, 0.328, 0.240, 0.188], [0.353, 0.367, 0.380, 0.374, 0.312, 0.228, 0.179],
         [0.344, 0.357, 0.370, 0.364, 0.303, 0.222, 0.174], [0.335, 0.347, 0.360, 0.355, 0.295, 0.216, 0.169],
         [0.330, 0.343, 0.355, 0.350, 0.291, 0.213, 0.167], [0.326, 0.338, 0.350, 0.345, 0.287, 0.210, 0.165],
         [0.321, 0.333, 0.345, 0.340, 0.283, 0.207, 0.162], [0.316, 0.328, 0.340, 0.335, 0.279, 0.204, 0.160],
         [0.312, 0.323, 0.335, 0.330, 0.275, 0.201, 0.157], [0.307, 0.318, 0.330, 0.325, 0.271, 0.198, 0.155],
         [0.302, 0.314, 0.325, 0.320, 0.267, 0.195, 0.153], [0.298, 0.309, 0.320, 0.315, 0.262, 0.192, 0.150],
         [0.293, 0.304, 0.315, 0.310, 0.258, 0.189, 0.148], [0.288, 0.299, 0.310, 0.305, 0.254, 0.186, 0.146],
         [0.284, 0.294, 0.305, 0.300, 0.250, 0.183, 0.143], [0.279, 0.290, 0.300, 0.296, 0.246, 0.180, 0.141],
         [0.274, 0.285, 0.295, 0.291, 0.242, 0.177, 0.139], [0.270, 0.280, 0.290, 0.286, 0.238, 0.174, 0.136],
         [0.265, 0.275, 0.285, 0.281, 0.234, 0.171, 0.134], [0.260, 0.270, 0.280, 0.276, 0.230, 0.168, 0.132],
         [0.256, 0.265, 0.275, 0.271, 0.226, 0.165, 0.129], [0.251, 0.261, 0.270, 0.266, 0.221, 0.162, 0.127],
         [0.246, 0.256, 0.265, 0.261, 0.217, 0.159, 0.125], [0.240, 0.249, 0.258, 0.254, 0.212, 0.155, 0.121],
         [0.324, 0.338, 0.335, 0.328, 0.270, 0.196, 0.152], [0.312, 0.325, 0.322, 0.315, 0.260, 0.189, 0.146],
         [0.302, 0.315, 0.312, 0.306, 0.252, 0.183, 0.142], [0.293, 0.305, 0.302, 0.296, 0.244, 0.177, 0.137],
         [0.283, 0.295, 0.292, 0.286, 0.236, 0.171, 0.133], [0.274, 0.285, 0.282, 0.276, 0.228, 0.165, 0.128],
         [0.264, 0.275, 0.272, 0.267, 0.220, 0.160, 0.124], [0.254, 0.265, 0.262, 0.257, 0.212, 0.154, 0.119]]
peak_r = [440] * 24 + [380] * 8

all_aod = [aod_a, aod_b, aod_c, aod_d, aod_e, aod_f, aod_g, aod_h, aod_i, aod_j,
           aod_k, aod_l, aod_m, aod_n, aod_o, aod_p, aod_q, aod_r]
all_peak = [peak_a, peak_b, peak_c, peak_d, peak_e, peak_f, peak_g, peak_h, peak_i, peak_j,
            peak_k, peak_l, peak_m, peak_n, peak_o, peak_p, peak_q, peak_r]
grid_pos = [(0, 0), (0, 1), (0, 2), (0, 3), (0, 4), (1, 0), (1, 1), (1, 2), (1, 3), (1, 4),
            (2, 0), (2, 1), (2, 2), (2, 3), (2, 4), (3, 1), (3, 2), (3, 3)]

LINE = "#8FA3B3"
RED = "#A01530"
DARK = "#222222"

sns.set_theme(style="ticks")
plt.rcParams["font.family"] = ["Liberation Serif", "DejaVu Serif"]

W, H = 4616, 2411
fig = plt.figure(figsize=(W / 300, H / 300), dpi=300)

col_left = [179, 1076, 1975, 2872, 3769]
row_top = [92.6, 644, 1197, 1750]
ax_w, ax_h = 803, 477.5

fmt = FuncFormatter(lambda v, p: f"{v:g}")

for k in range(18):
    r, c = grid_pos[k]
    ax = fig.add_axes([col_left[c] / W, 1 - (row_top[r] + ax_h) / H, ax_w / W, ax_h / H])
    rows = []
    for i, vals in enumerate(all_aod[k]):
        for w, v in zip(wavelengths, vals):
            if not np.isnan(v):
                rows.append((i, w, v))
    df = pd.DataFrame(rows, columns=["id", "wl", "aod"])
    sns.lineplot(data=df, x="wl", y="aod", units="id", estimator=None, color=LINE,
                 linewidth=1.4, marker="o", markersize=2.6, markeredgewidth=0,
                 legend=False, ax=ax, zorder=2)
    dots = []
    for i, pw in enumerate(all_peak[k]):
        if pw:
            dots.append((pw, all_aod[k][i][wavelengths.index(pw)]))
    ddf = pd.DataFrame(dots, columns=["wl", "aod"])
    sns.scatterplot(data=ddf, x="wl", y="aod", color=RED, s=60, linewidth=0,
                    legend=False, ax=ax, zorder=4, clip_on=False)

    ax.set_xlim(340, 1020)
    ax.set_ylim(*ylims[k])
    ax.set_xticks(wavelengths)
    ax.set_yticks(yticks[k])
    ax.yaxis.set_major_formatter(fmt)
    ax.grid(True, color="#d9d9d9", linewidth=1.0)
    ax.set_axisbelow(True)
    ax.set_xlabel("")
    ax.set_ylabel("")
    ax.tick_params(direction="in", length=3, width=1.0, color=DARK, top=True, right=True,
                   labelsize=11, pad=3, labelcolor="#111111")
    for s in ax.spines.values():
        s.set_visible(True)
        s.set_linewidth(1.2)
        s.set_color(DARK)
    if r == 3:
        ax.set_xticklabels([str(w) for w in wavelengths], rotation=90)
    else:
        ax.set_xticklabels([])
    ax.set_title(titles[k], fontsize=13, pad=4, color="#111111")

fig.text(2376 / W, 1 - 2346 / H, "Wavelength (nm)", ha="center", va="center", fontsize=13,
         color="#111111")
fig.text(59 / W, 1 - 1163 / H, "Aerosol optical depth (AOD)", ha="center", va="center",
         rotation=90, fontsize=14, color="#111111")

fig.savefig("out.png", dpi=300)
